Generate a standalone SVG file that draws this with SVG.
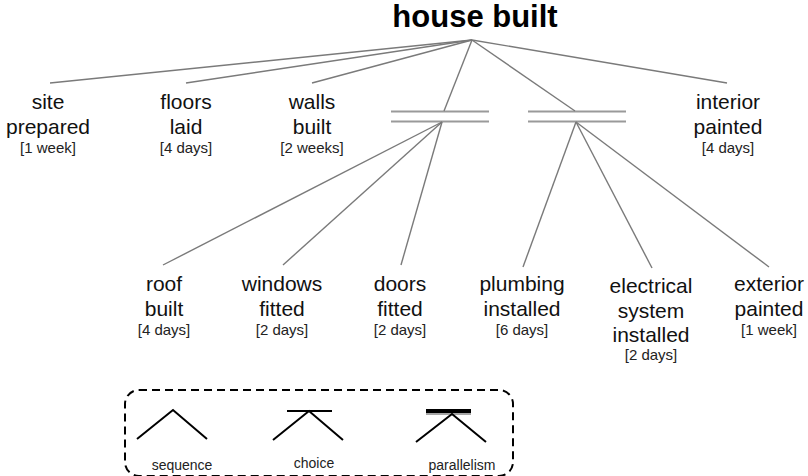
<svg xmlns="http://www.w3.org/2000/svg" width="808" height="476" viewBox="0 0 808 476">
  <style>
    .title { font-family: "Liberation Sans", Arial, sans-serif; font-size: 31px; font-weight: bold; fill: #000; text-anchor: middle; }
    .lbl { font-family: "Liberation Sans", Arial, sans-serif; font-size: 21px; fill: #111; text-anchor: middle; }
    .dur { font-family: "Liberation Sans", Arial, sans-serif; font-size: 15px; fill: #222; text-anchor: middle; }
    .edge { stroke: #7a7a7a; stroke-width: 1.4; fill: none; }
    .bar { stroke: #9a9a9a; stroke-width: 2.2; fill: none; }
    .key { stroke: #000; stroke-width: 2; fill: none; }
    .keytxt { font-family: "Liberation Sans", Arial, sans-serif; font-size: 14px; fill: #222; text-anchor: middle; }
  </style>

  <!-- root goal -->
  <g id="house-built">
    <text class="title" x="475" y="27">house built</text>
  </g>

  <!-- parallel operators (double bars) -->
  <g id="parallel-1">
    <line class="bar" x1="391" y1="111.5" x2="489" y2="111.5"/>
    <line class="bar" x1="391" y1="121.5" x2="489" y2="121.5"/>
  </g>
  <g id="parallel-2">
    <line class="bar" x1="528" y1="111.5" x2="626" y2="111.5"/>
    <line class="bar" x1="528" y1="121.5" x2="626" y2="121.5"/>
  </g>

  <!-- connectors -->
  <g id="connectors">
    <line class="edge" x1="472" y1="40" x2="50" y2="83"/>
    <line class="edge" x1="472" y1="40" x2="186" y2="83"/>
    <line class="edge" x1="472" y1="40" x2="312" y2="83"/>
    <line class="edge" x1="472" y1="40" x2="444" y2="111"/>
    <line class="edge" x1="472" y1="40" x2="575" y2="111"/>
    <line class="edge" x1="472" y1="40" x2="727" y2="83"/>
    <line class="edge" x1="442" y1="122" x2="163" y2="265"/>
    <line class="edge" x1="442" y1="122" x2="283" y2="265"/>
    <line class="edge" x1="442" y1="122" x2="401" y2="265"/>
    <line class="edge" x1="576" y1="122" x2="523" y2="267"/>
    <line class="edge" x1="576" y1="122" x2="652" y2="268"/>
    <line class="edge" x1="576" y1="122" x2="769" y2="267"/>
  </g>

  <!-- first-level tasks -->
  <g id="site-prepared">
    <text class="lbl" x="48" y="109">site</text>
    <text class="lbl" x="48" y="134">prepared</text>
    <text class="dur" x="48" y="153">[1 week]</text>
  </g>
  <g id="floors-laid">
    <text class="lbl" x="186" y="109">floors</text>
    <text class="lbl" x="186" y="134">laid</text>
    <text class="dur" x="186" y="153">[4 days]</text>
  </g>
  <g id="walls-built">
    <text class="lbl" x="312" y="109">walls</text>
    <text class="lbl" x="312" y="134">built</text>
    <text class="dur" x="312" y="153">[2 weeks]</text>
  </g>
  <g id="interior-painted">
    <text class="lbl" x="728" y="109">interior</text>
    <text class="lbl" x="728" y="134">painted</text>
    <text class="dur" x="728" y="153">[4 days]</text>
  </g>

  <!-- second-level tasks -->
  <g id="roof-built">
    <text class="lbl" x="164" y="291">roof</text>
    <text class="lbl" x="164" y="316">built</text>
    <text class="dur" x="164" y="335">[4 days]</text>
  </g>
  <g id="windows-fitted">
    <text class="lbl" x="282" y="291">windows</text>
    <text class="lbl" x="282" y="316">fitted</text>
    <text class="dur" x="282" y="335">[2 days]</text>
  </g>
  <g id="doors-fitted">
    <text class="lbl" x="400" y="291">doors</text>
    <text class="lbl" x="400" y="316">fitted</text>
    <text class="dur" x="400" y="335">[2 days]</text>
  </g>
  <g id="plumbing-installed">
    <text class="lbl" x="522" y="291">plumbing</text>
    <text class="lbl" x="522" y="316">installed</text>
    <text class="dur" x="522" y="335">[6 days]</text>
  </g>
  <g id="electrical-system-installed">
    <text class="lbl" x="651" y="293">electrical</text>
    <text class="lbl" x="651" y="318">system</text>
    <text class="lbl" x="651" y="342">installed</text>
    <text class="dur" x="651" y="360">[2 days]</text>
  </g>
  <g id="exterior-painted">
    <text class="lbl" x="769" y="291">exterior</text>
    <text class="lbl" x="769" y="316">painted</text>
    <text class="dur" x="769" y="335">[1 week]</text>
  </g>

  <!-- legend -->
  <g id="legend">
    <rect x="125" y="390" width="388" height="86" rx="14" ry="14" fill="none" stroke="#000" stroke-width="2" stroke-dasharray="8 5"/>
    <polyline class="key" points="137,439 173,410 207,439"/>
    <text class="keytxt" x="182" y="470">sequence</text>
    <line class="key" x1="287" y1="411" x2="332" y2="411"/>
    <polyline class="key" points="273,440 309,411 343,440"/>
    <text class="keytxt" x="314" y="468">choice</text>
    <line x1="426" y1="411" x2="471" y2="411" stroke="#000" stroke-width="4"/>
    <line x1="426" y1="414" x2="471" y2="414" stroke="#888" stroke-width="1.5"/>
    <polyline class="key" points="416,442 452,414 486,442"/>
    <text class="keytxt" x="462" y="470">parallelism</text>
  </g>
</svg>
